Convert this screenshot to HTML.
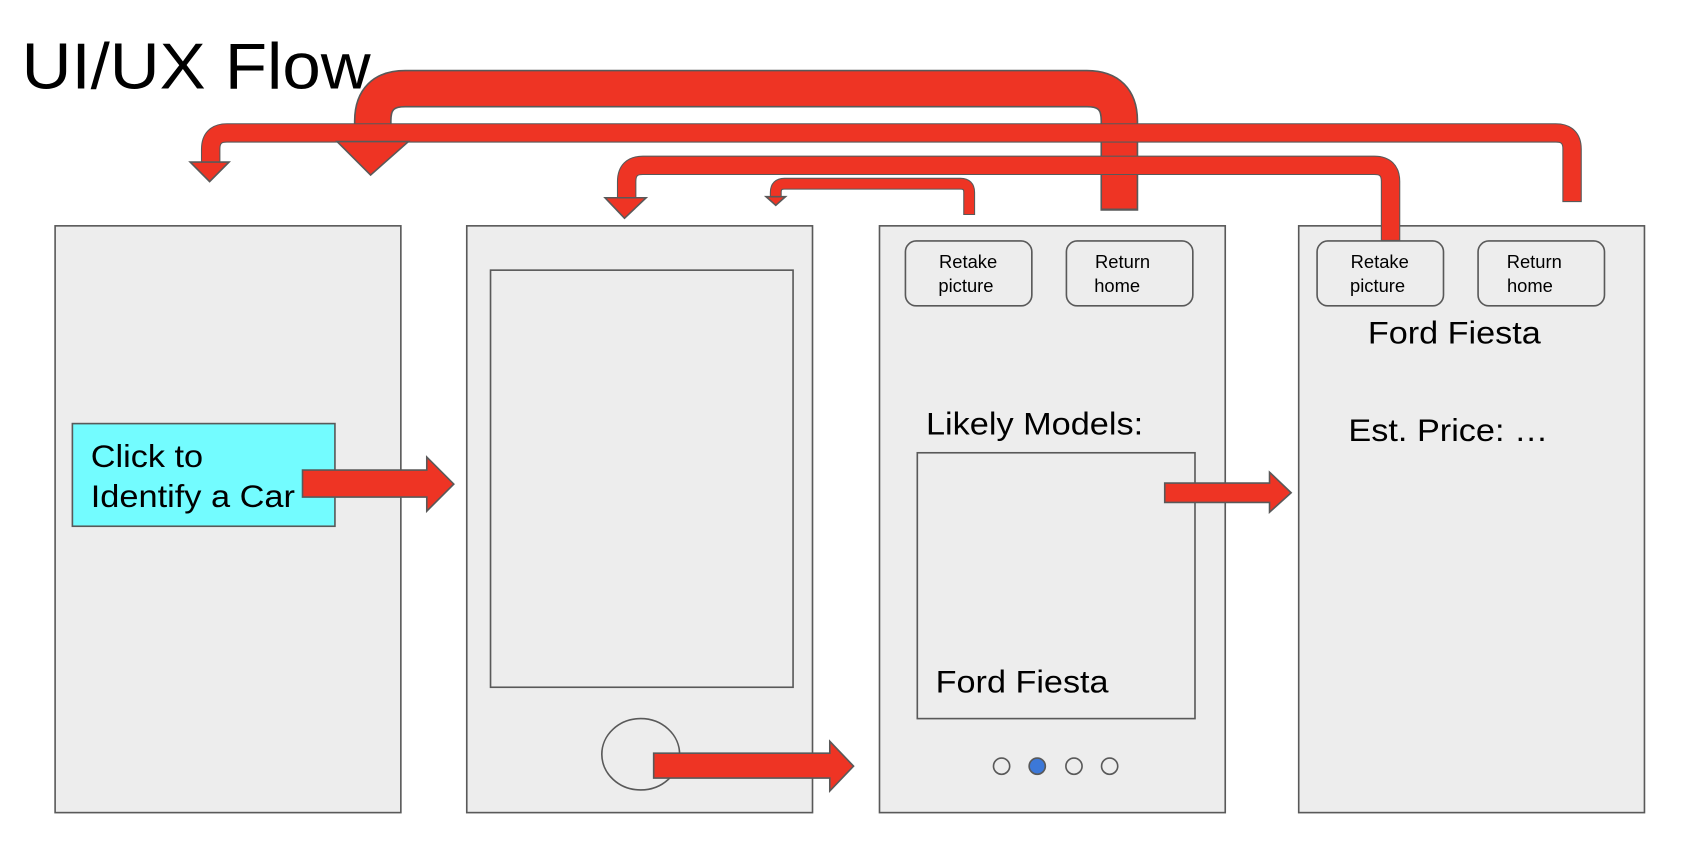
<!DOCTYPE html>
<html><head><style>html,body{margin:0;padding:0;background:#fff;}svg{display:block} text{font-family:"Liberation Sans", Arial, sans-serif;}</style></head>
<body>
<svg width="1692" height="858" viewBox="0 0 1566 794" preserveAspectRatio="none" xmlns="http://www.w3.org/2000/svg" style="font-family:'Liberation Sans', Arial, sans-serif">
<rect width="1566" height="794" fill="#fff"/>
<text x="20" y="82" font-size="60" textLength="323" lengthAdjust="spacingAndGlyphs">UI/UX Flow</text>
<g fill="#ededed" stroke="#595959" stroke-width="1.5">
<rect x="51" y="209" width="320" height="543"/>
<rect x="432" y="209" width="320" height="543"/>
<rect x="814" y="209" width="320" height="543"/>
<rect x="1202" y="209" width="320" height="543"/>
<rect x="454" y="250" width="280" height="386"/>
<ellipse cx="593" cy="698" rx="36" ry="33"/>
<rect x="849" y="419" width="257" height="246"/>
<rect x="838" y="223" width="117" height="60" rx="10"/>
<rect x="987" y="223" width="117" height="60" rx="10"/>
<rect x="1219" y="223" width="117" height="60" rx="10"/>
<rect x="1368" y="223" width="117" height="60" rx="10"/>
<circle cx="927" cy="709" r="7.5" fill="none"/>
<circle cx="960" cy="709" r="7.5" fill="#3c78d8"/>
<circle cx="994" cy="709" r="7.5" fill="none"/>
<circle cx="1027" cy="709" r="7.5" fill="none"/>
</g>
<rect x="67" y="392" width="243" height="95" fill="#73fcff" stroke="#595959" stroke-width="1.5"/>
<text x="84" y="432" font-size="29" textLength="104" lengthAdjust="spacingAndGlyphs">Click to</text>
<text x="84" y="469" font-size="29" textLength="189" lengthAdjust="spacingAndGlyphs">Identify a Car</text>
<g font-size="17" text-anchor="middle">
<text x="896" y="248">Retake</text><text x="894" y="270">picture</text>
<text x="1039" y="248">Return</text><text x="1034" y="270">home</text>
<text x="1277" y="248">Retake</text><text x="1275" y="270">picture</text>
<text x="1420" y="248">Return</text><text x="1416" y="270">home</text>
</g>
<text x="1266" y="318" font-size="29" textLength="160" lengthAdjust="spacingAndGlyphs">Ford Fiesta</text>
<text x="1248" y="408" font-size="29" textLength="185" lengthAdjust="spacingAndGlyphs">Est. Price: …</text>
<text x="857" y="402" font-size="29" textLength="201" lengthAdjust="spacingAndGlyphs">Likely Models:</text>
<text x="866" y="641" font-size="29" textLength="160" lengthAdjust="spacingAndGlyphs">Ford Fiesta</text>
<g fill="none" stroke-linejoin="round">
<path d="M1036,195 V112 Q1036,82 1006,82 H375 Q345,82 345,112 V132" stroke="#595959" stroke-width="35"/>
<path d="M1036,193 V112 Q1036,82 1006,82 H375 Q345,82 345,112 V133" stroke="#ee3424" stroke-width="32"/>
<path d="M1455,187 V138 Q1455,123 1440,123 H210 Q195,123 195,138 V151" stroke="#595959" stroke-width="18"/>
<path d="M1455,186 V138 Q1455,123 1440,123 H210 Q195,123 195,138 V152" stroke="#ee3424" stroke-width="16"/>
<path d="M1287,223 V168 Q1287,153 1272,153 H595 Q580,153 580,168 V184" stroke="#595959" stroke-width="18"/>
<path d="M1287,222 V168 Q1287,153 1272,153 H595 Q580,153 580,168 V185" stroke="#ee3424" stroke-width="16"/>
<path d="M897,199 V178 Q897,170 889,170 H726 Q718,170 718,178 V183" stroke="#595959" stroke-width="11"/>
<path d="M897,198 V178 Q897,170 889,170 H726 Q718,170 718,178 V184" stroke="#ee3424" stroke-width="9"/>
</g>
<g fill="#ee3424" stroke="#595959" stroke-width="1.5" stroke-linejoin="miter">
<polygon points="312,131 378,131 343,162"/>
<polygon points="176,150 212,150 194,168"/>
<polygon points="560,183 598,183 578,202"/>
<polygon points="709,182 727,182 718,190"/>
<polygon points="280,435 395,435 395,423 420,448 395,473 395,460 280,460"/>
<polygon points="605,697 768,697 768,686 790,709 768,732 768,720 605,720"/>
<polygon points="1078,447 1175,447 1175,437 1195,456 1175,474 1175,465 1078,465"/>
</g>
</svg>
</body></html>
